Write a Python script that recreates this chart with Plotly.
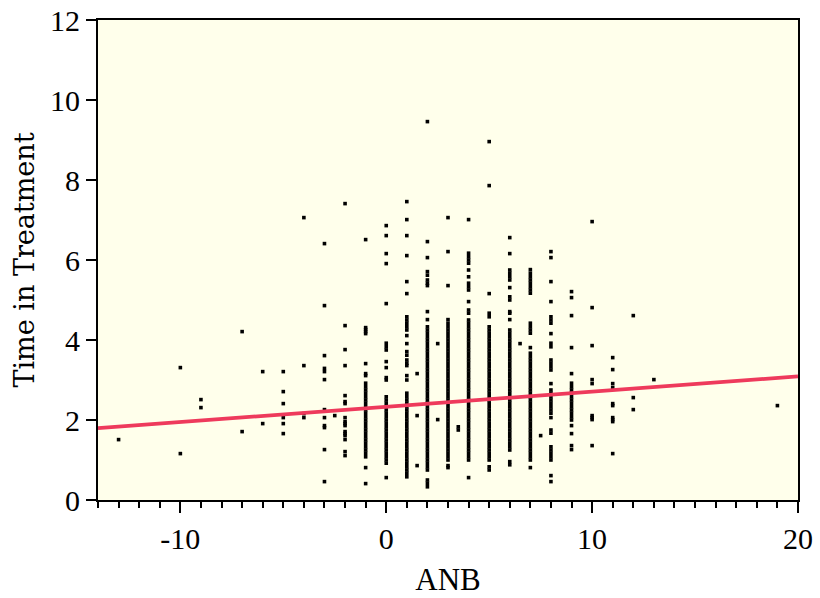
import plotly.graph_objects as go

# ---- data: ANB value -> Time in Treatment values ----
t_m13 = [1.51]
t_m10 = [3.31, 1.16]
t_m9 = [2.51, 2.31]
t_m7 = [4.21, 1.71]
t_m6 = [3.21, 1.91]
t_m5 = [3.21, 2.71, 2.41, 2.06, 1.91, 1.66]
t_m4 = [7.06, 3.36, 2.16, 2.06]
t_m3 = [6.41, 4.86, 3.61, 3.29, 3.21, 3.01, 2.26, 2.06, 1.86, 1.81, 1.26, 0.46]
t_m2_5 = [2.11]
t_m2 = [7.41, 4.36, 3.76, 3.36, 2.61, 2.46, 2.41, 2.06, 1.96, 1.91, 1.86, 1.71,
        1.66, 1.61, 1.51, 1.21, 1.11]
t_m1 = [6.51, 4.31, 4.26, 4.21, 4.16, 3.41, 3.16, 3.11,
        2.92, 2.83, 2.75, 2.67, 2.58, 2.5, 2.42, 2.33, 2.25, 2.17, 2.08, 2.0,
        1.92, 1.83, 1.75, 1.67, 1.58, 1.5, 1.42, 1.33, 1.25, 1.17, 1.08, 0.81, 0.41]
t_0 = [6.86, 6.61, 6.16, 5.91, 4.91, 3.92, 3.83, 3.75, 3.46, 3.31, 3.06, 3.0,
       2.58, 2.5, 2.42, 2.33, 2.25, 2.17, 2.08, 2.0, 1.92, 1.83, 1.75, 1.67,
       1.58, 1.5, 1.42, 1.33, 1.25, 1.17, 1.08, 1.0, 0.92, 0.56]
t_1 = [7.46, 7.01, 6.61, 6.11, 5.46, 5.16, 4.58, 4.5, 4.42, 4.33, 4.25, 4.11,
       3.91, 3.71, 3.62, 3.5, 3.42, 3.36, 3.11, 3.0,
       2.67, 2.58, 2.5, 2.42, 2.33, 2.25, 2.17, 2.08, 2.0, 1.92, 1.83, 1.75,
       1.67, 1.58, 1.5, 1.42, 1.33, 1.25, 1.17, 1.08, 1.0, 0.92, 0.83, 0.75,
       0.67, 0.58]
t_1_5 = [3.16, 2.11, 0.86]
t_2 = [9.46, 6.46, 6.06, 5.71, 5.62, 5.5, 5.42, 5.36, 4.71, 4.51,
       4.33, 4.25, 4.17, 4.08, 4.0, 3.92, 3.83, 3.75, 3.67, 3.58, 3.5, 3.42,
       3.33, 3.25, 3.17, 3.08, 3.0, 2.92, 2.83, 2.75, 2.67, 2.58, 2.5, 2.42,
       2.33, 2.25, 2.17, 2.08, 2.0, 1.92, 1.83, 1.75, 1.67, 1.58, 1.5, 1.42,
       1.33, 1.25, 1.17, 1.08, 1.0, 0.92, 0.83, 0.75, 0.5, 0.42, 0.33]
t_2_5 = [3.91, 2.01]
t_3 = [7.06, 6.21, 5.36, 4.51,
       4.42, 4.33, 4.25, 4.17, 4.08, 4.0, 3.92, 3.83, 3.75, 3.67, 3.58, 3.5,
       3.42, 3.33, 3.25, 3.17, 3.08, 3.0, 2.92, 2.83, 2.75, 2.67, 2.58, 2.5,
       2.42, 2.33, 2.25, 2.17, 2.08, 2.0, 1.92, 1.83, 1.75, 1.67, 1.58, 1.5,
       1.42, 1.33, 1.25, 1.17, 1.08, 1.0, 0.86, 0.81]
t_3_5 = [1.83, 1.75]
t_4 = [7.01, 6.17, 6.08, 6.0, 5.92, 5.75, 5.58, 5.42, 5.33, 5.25, 4.96, 4.75, 4.67,
       4.5, 4.42, 4.33, 4.25, 4.17, 4.08, 4.0, 3.92, 3.83, 3.75, 3.67, 3.58,
       3.5, 3.42, 3.33, 3.25, 3.17, 3.08, 3.0, 2.92, 2.83, 2.75, 2.67, 2.58,
       2.5, 2.42, 2.33, 2.25, 2.17, 2.08, 2.0, 1.92, 1.83, 1.75, 1.67, 1.58,
       1.5, 1.42, 1.33, 1.25, 1.17, 1.08, 1.0, 0.56]
t_5 = [8.96, 7.86, 5.16, 4.67, 4.58,
       4.33, 4.25, 4.17, 4.08, 4.0, 3.92, 3.83, 3.75, 3.67, 3.58, 3.5, 3.42,
       3.33, 3.25, 3.17, 3.08, 3.0, 2.92, 2.83, 2.75, 2.67, 2.58, 2.5, 2.42,
       2.33, 2.25, 2.17, 2.08, 2.0, 1.92, 1.83, 1.75, 1.67, 1.58, 1.5, 1.42,
       1.33, 1.25, 1.17, 1.08, 1.0, 0.83, 0.75]
t_6 = [6.56, 6.16, 5.75, 5.67, 5.58, 5.5, 5.31, 5.08, 5.0, 4.71, 4.67, 4.51,
       4.25, 4.17, 4.08, 4.0, 3.92, 3.83, 3.75, 3.67, 3.58, 3.5, 3.42, 3.33,
       3.25, 3.17, 3.08, 3.0, 2.92, 2.83, 2.75, 2.67, 2.58, 2.5, 2.42, 2.33,
       2.25, 2.17, 2.08, 2.0, 1.92, 1.83, 1.75, 1.67, 1.58, 1.5, 1.42, 1.33,
       1.25, 0.96, 0.88]
t_6_5 = [3.91]
t_7 = [5.76, 5.67, 5.58, 5.5, 5.42, 5.33, 5.25, 5.17, 4.42, 4.33, 4.25, 4.17, 3.81,
       3.67, 3.58, 3.5, 3.42, 3.33, 3.25, 3.17, 3.08, 3.0, 2.92, 2.83, 2.75,
       2.67, 2.58, 2.5, 2.42, 2.33, 2.25, 2.17, 2.08, 2.0, 1.92, 1.83, 1.75,
       1.67, 1.58, 1.5, 1.42, 1.33, 1.25, 1.17, 1.08, 1.0, 0.81]
t_7_5 = [1.61]
t_8 = [6.21, 6.06, 5.46, 4.96, 4.58, 4.5, 4.42, 4.16, 3.92, 3.83, 3.5, 3.42,
       3.33, 3.25, 2.91, 2.75, 2.67, 2.58, 2.5, 2.42, 2.33, 2.25, 2.17, 2.06,
       1.75, 1.67, 1.33, 1.25, 1.17, 1.08, 1.0, 0.61, 0.46]
t_9 = [5.21, 5.06, 4.61, 3.81, 3.16, 2.92, 2.83, 2.75, 2.67, 2.58, 2.5, 2.42,
       2.33, 2.25, 2.17, 2.08, 2.0, 1.86, 1.66, 1.36, 1.26]
t_10 = [6.96, 4.81, 3.86, 3.01, 2.91, 2.11, 2.06, 2.01, 1.36]
t_11 = [3.56, 3.26, 2.91, 2.81, 2.41, 2.36, 2.06, 2.01, 1.96, 1.16]
t_12 = [4.61, 2.56, 2.26]
t_13 = [3.01]
t_19 = [2.36]

columns = [(-13, t_m13), (-10, t_m10), (-9, t_m9), (-7, t_m7), (-6, t_m6),
           (-5, t_m5), (-4, t_m4), (-3, t_m3), (-2.5, t_m2_5), (-2, t_m2),
           (-1, t_m1), (0, t_0), (1, t_1), (1.5, t_1_5), (2, t_2), (2.5, t_2_5),
           (3, t_3), (3.5, t_3_5), (4, t_4), (5, t_5), (6, t_6), (6.5, t_6_5),
           (7, t_7), (7.5, t_7_5), (8, t_8), (9, t_9), (10, t_10), (11, t_11),
           (12, t_12), (13, t_13), (19, t_19)]

# linear fit shown on the chart
fit_intercept = 2.33
fit_slope = 0.038
x_range = [-14, 20]
y_range = [0, 12]
x_tickvals = [-10, 0, 10, 20]
x_ticktext = ["-10", "0", "10", "20"]
y_tickvals = [0, 2, 4, 6, 8, 10, 12]

anb = []
tit = []
for xv, ys in columns:
    for yv in ys:
        anb.append(xv)
        tit.append(yv)

fit_y = [fit_intercept + fit_slope * xv for xv in x_range]

tick_font = dict(family="Liberation Serif, serif", size=30, color="black")
ytitle_font = dict(family="DejaVu Serif, serif", size=27, color="black")
xtitle_font = dict(family="Liberation Serif, serif", size=31, color="black")

fig = go.Figure()
fig.add_trace(go.Scatter(
    x=anb, y=tit, mode="markers",
    marker=dict(symbol="square", size=3.6, color="black", line=dict(width=0)),
    showlegend=False, hoverinfo="x+y"))
fig.add_trace(go.Scatter(
    x=x_range, y=fit_y, mode="lines",
    line=dict(color="#EE3A5C", width=3.8),
    showlegend=False))

fig.update_layout(
    width=820, height=598,
    margin=dict(l=98, r=22, t=20, b=98, autoexpand=False),
    paper_bgcolor="white",
    plot_bgcolor="#FFFFEB",
    font=tick_font,
)
fig.update_xaxes(
    range=x_range, tickvals=x_tickvals, ticktext=x_ticktext,
    tickfont=tick_font,
    ticks="outside", ticklen=11, tickwidth=2, tickcolor="black",
    minor=dict(ticks="outside", dtick=1, ticklen=6, tickwidth=2, tickcolor="black", showgrid=False),
    showline=True, linecolor="black", linewidth=2, mirror=True,
    showgrid=False, zeroline=False,
    title=dict(text="ANB", font=xtitle_font, standoff=14),
)
fig.update_yaxes(
    range=y_range, tickvals=y_tickvals,
    tickfont=tick_font,
    ticks="outside", ticklen=10, tickwidth=2, tickcolor="black",
    showline=True, linecolor="black", linewidth=2, mirror=True,
    showgrid=False, zeroline=False,
    title=dict(text="Time in Treatment", font=ytitle_font, standoff=8),
)

fig.write_html("out.html", config={"displayModeBar": False},
               post_script="document.body.style.margin='0';")
